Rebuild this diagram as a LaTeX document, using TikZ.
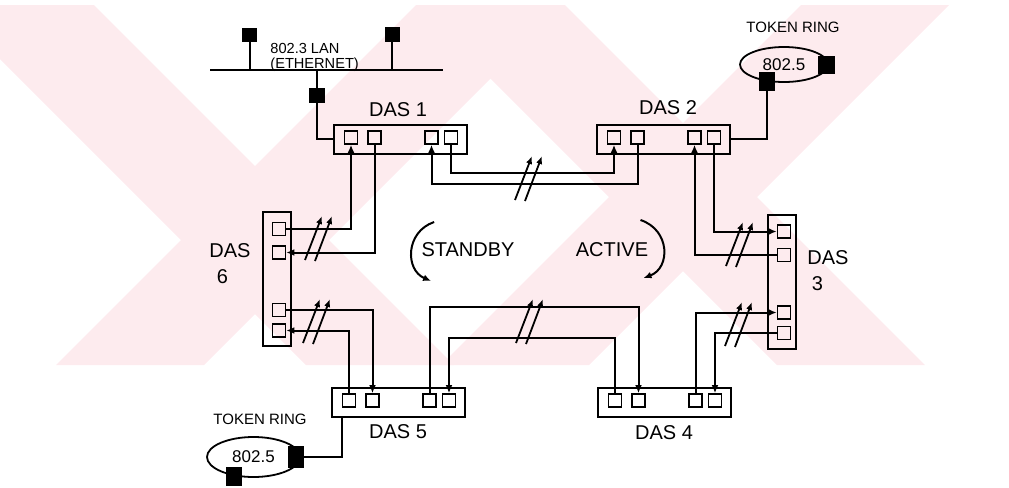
\documentclass[tikz,border=0pt]{standalone}
\usepackage{fontspec}
\setmainfont{Liberation Sans}
\usetikzlibrary{arrows.meta,shapes.geometric}
\definecolor{wmark}{RGB}{253,235,238}
\tikzset{
  dasbox/.style={draw,line width=1pt,inner sep=0,minimum width=66.5pt,minimum height=14.5pt},
  dasvbox/.style={draw,line width=1pt,inner sep=0,minimum width=14pt,minimum height=67pt},
  port/.style={draw,line width=0.8pt,inner sep=0,minimum size=6.5pt},
  station/.style={fill=black,inner sep=0,minimum width=8.5pt,minimum height=9pt},
  ring/.style={draw,ellipse,line width=0.9pt,inner sep=0,font=\fontsize{8.5}{9}\selectfont},
  link/.style={line width=1pt},
  flow/.style={link,-{Latex[length=4pt,width=3.4pt]}},
  hash/.style={line width=0.9pt,-{Latex[length=4pt,width=3.2pt]}},
  lbl/.style={font=\fontsize{10}{13}\selectfont,inner sep=0},
  small/.style={font=\fontsize{7.5}{9}\selectfont,inner sep=0},
}
\begin{document}
\begin{tikzpicture}[x=0.5pt,y=-0.5pt]
\useasboundingbox (0,0) rectangle (1009,488);
% watermark
\begin{scope}
  \clip (0,5) rectangle (1009,365);
  \foreach \cx/\cy in {255/240,683/197}{
    \fill[wmark] (\cx+5-\cy-74,5) -- (\cx+5-\cy+74,5) -- (\cx+365-\cy+74,365) -- (\cx+365-\cy-74,365) -- cycle;
    \fill[wmark] (\cx+\cy-5-74,5) -- (\cx+\cy-5+74,5) -- (\cx+\cy-365+74,365) -- (\cx+\cy-365-74,365) -- cycle;
  }
\end{scope}

% stations with four ports
\foreach \n/\cx/\cy in {1/400/139,2/663/139,5/398/402,4/664/402}{
  \node[dasbox] (d\n) at (\cx,\cy) {};
  \foreach \i/\dx in {1/-49,2/-25.5,3/31.5,4/51}
    \node[port] (d\n p\i) at (\cx+\dx,\cy-1.5) {};
}
\foreach \n/\cx/\cy in {6/277/279,3/782/281.5}{
  \node[dasvbox] (d\n) at (\cx,\cy) {};
  \foreach \i/\dy in {1/-50,2/-26.5,3/31,4/51.5}
    \node[port] (d\n p\i) at (\cx+2,\cy+\dy) {};
}
\node[lbl] (l1) at (398,110) {DAS 1};
\node[lbl] (l2) at (668,108) {DAS 2};
\node[lbl] (l5) at (398,432) {DAS 5};
\node[lbl] (l4) at (664,433) {DAS 4};
\node[lbl,anchor=west,align=left] (l6) at (209,264) {DAS\\\hspace*{3.7pt}6};
\node[lbl,anchor=west,align=left] (l3) at (807,271) {DAS\\\hspace*{2.2pt}3};

% dual ring
\draw[flow] (d6p1.east) -| (d1p1.south);
\draw[flow] (d1p2.south) |- (d6p2.east);
\draw[flow] (d2p2.south) -- ++(0,39) -| (d1p3.south);
\draw[flow] (d1p4.south) -- ++(0,28) -| (d2p1.south);
\draw[flow] (d3p2.west) -| (d2p3.south);
\draw[flow] (d2p4.south) |- (d3p1.west);
\draw[flow] (d4p3.north) |- (d3p3.west);
\draw[flow] (d3p4.west) -| (d4p4.north);
\draw[flow] (d5p3.north) -- ++(0,-86) -| (d4p2.north);
\draw[flow] (d4p1.north) -- ++(0,-55) -| (d5p4.north);
\draw[flow] (d6p3.east) -| (d5p2.north);
\draw[flow] (d5p1.north) |- (d6p4.east);
\foreach \hx/\hy in {305/260,515/200,726/266,725/346,516/343,303/343}{
  \draw[hash] (\hx,\hy) -- (\hx+17,\hy-44);
  \draw[hash] (\hx+10,\hy+1) -- (\hx+27,\hy-44);
}

% ring directions
\node[lbl] (sb) at (468,250) {STANDBY};
\node[lbl] (ac) at (612,250) {ACTIVE};
\draw[flow] ([shift={(13,-28)}]sb.west) .. controls ([shift={(-16,-18)}]sb.west) and ([shift={(-16,20)}]sb.west) .. ([shift={(10,31)}]sb.west);
\draw[flow] ([shift={(-8,-30)}]ac.east) .. controls ([shift={(22,-20)}]ac.east) and ([shift={(22,18)}]ac.east) .. ([shift={(-5,28)}]ac.east);

% ethernet
\coordinate (busL) at (210,70);
\coordinate (busR) at (443,70);
\draw[link] (busL) -- (busR);
\node[station,minimum width=7.5pt,minimum height=7pt] (e1) at (249.5,35) {};
\node[station,minimum width=7.5pt,minimum height=7.5pt] (e2) at (392,34.5) {};
\node[station,minimum width=8pt,minimum height=7.5pt] (e3) at (317,95.5) {};
\draw[link] (e1.south) -- (e1.south |- busL);
\draw[link] (e2.south) -- (e2.south |- busL);
\draw[link] (e3.north) -- (e3.north |- busL);
\draw[link] (e3.south) |- (d1.west);
\node[font=\fontsize{7.3}{7.5}\selectfont,inner sep=0,anchor=west,align=left] (lan) at (270,57) {802.3 LAN\\(ETHERNET)};

% token rings
\node[small] (trl1) at (793,27) {TOKEN RING};
\node[ring,minimum width=44pt,minimum height=17.5pt] (tr1) at (784,64.5) {802.5};
\node[station] (t1a) at ([xshift=-1pt]tr1.east) {};
\node[station,minimum width=8pt,minimum height=9.5pt] (t1b) at (tr1.-135) {};
\draw[link] (t1b.south) |- (d2.east);

\node[small] (trl2) at (260,419) {TOKEN RING};
\node[ring,minimum width=46.5pt,minimum height=20pt] (tr2) at (253.5,457) {802.5};
\node[station,minimum width=8pt,minimum height=11pt] (t2a) at ([xshift=-2.5pt]tr2.east) {};
\node[station,minimum width=8pt,minimum height=9.5pt] (t2b) at (tr2.-135) {};
\draw[link] (t2a.east) -| (d5p1.west |- d5.south);
\end{tikzpicture}
\end{document}
